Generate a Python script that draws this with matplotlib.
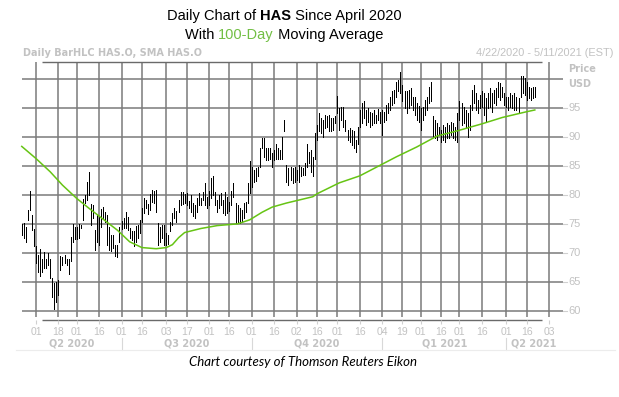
import numpy as np
import pandas as pd
import matplotlib
matplotlib.use('Agg')
import matplotlib.pyplot as plt

# daily high / low of HAS.O, one pair per trading day from 2020-04-22
high = [74.9, 75.1, 74.5, 77.4, 80.6, 76.5, 74.1, 71.1, 69.6, 70.7,
        69.0, 70.1, 69.0, 69.9, 68.9, 65.7, 64.7, 65.0, 65.3, 69.5,
        69.3, 69.6, 69.0, 68.9, 72.8, 74.9, 74.5, 74.4, 74.9, 74.8,
        79.3, 80.0, 82.3, 83.9, 78.4, 78.3, 73.9, 76.5, 76.2, 77.6,
        78.0, 77.1, 76.5, 74.5, 73.1, 73.0, 71.3, 71.3, 74.4, 75.5,
        76.0, 77.0, 76.2, 74.2, 73.7, 73.7, 74.7, 74.8, 75.7, 77.7,
        79.4, 79.1, 78.4, 80.1, 80.9, 80.6, 80.9,
        75.1, 74.5, 74.8, 74.8, 73.4, 73.1, 75.4, 76.8, 77.7, 77.2,
        79.1, 80.5, 80.5, 80.1, 80.3, 79.0, 80.0, 78.6, 78.3, 79.5,
        80.3, 79.4, 80.5, 82.0, 79.7, 80.7, 83.0, 83.3, 80.5, 79.1,
        80.0, 80.3, 79.1, 80.5, 79.7, 78.8, 80.6, 82.0, 78.6, 78.3,
        77.7, 77.4, 78.6, 78.7, 82.0, 85.9, 84.9, 84.3, 84.7, 84.9,
        88.1, 89.8, 89.9, 88.1, 88.1, 88.1, 87.2, 87.8, 88.9, 88.1,
        87.8, 90.1, 93.0,
        85.2, 84.6, 84.9, 84.6, 84.9, 84.3, 85.2, 84.9, 84.6, 85.5,
        88.9, 87.5, 87.8, 86.6, 90.7, 92.1, 94.1, 93.3, 93.0, 93.8,
        93.6, 93.8,
        93.3, 93.3, 93.6, 97.1, 95.0, 95.2, 95.3, 93.0, 91.2, 91.5,
        91.2, 91.0, 89.5, 91.8, 94.7, 95.9, 96.2, 94.7, 95.0, 94.4,
        94.1, 94.7, 93.8, 94.8, 94.4, 94.7, 94.4, 95.6, 95.9, 97.0,
        97.9, 98.2, 99.6, 99.9, 101.3, 99.0, 97.9, 97.9, 98.2, 98.5,
        97.0, 97.0, 95.9, 95.4, 95.0, 95.3, 96.4, 97.0, 98.7, 99.6,
        93.6, 93.0, 92.4, 91.8, 91.2, 92.1, 91.8, 92.4, 92.1, 92.7,
        92.4, 91.8, 94.1, 96.2, 95.9, 95.3, 94.7, 94.1, 95.6, 98.2,
        99.0, 97.6, 96.4, 97.3, 97.9, 97.6, 96.7, 97.6, 98.5, 97.6,
        98.2, 98.5, 99.6, 99.3, 98.7, 97.6, 97.0, 97.0, 97.6, 97.3,
        97.6, 97.0, 96.7, 100.5, 100.5, 100.2, 99.6, 98.7, 98.5, 98.7,
        98.7]
low = [73.1, 72.6, 71.8, 75.7, 77.4, 74.0, 71.1, 68.2, 66.7, 65.9,
       66.6, 67.3, 67.3, 67.9, 65.6, 62.4, 60.3, 61.5, 62.7, 67.0,
       67.9, 68.2, 67.9, 66.4, 68.5, 71.9, 72.4, 72.4, 72.6, 74.2,
       75.7, 78.6, 79.1, 80.0, 74.8, 76.0, 70.5, 71.9, 71.3, 74.4,
       76.0, 75.4, 71.3, 70.5, 70.3, 70.8, 69.5, 69.3, 71.9, 74.1,
       74.2, 74.2, 74.0, 72.5, 72.2, 71.1, 71.9, 72.6, 73.4, 75.4,
       76.8, 77.7, 76.7, 77.4, 78.8, 78.6, 77.1,
       71.3, 71.9, 72.5, 71.3, 71.3, 71.6, 73.7, 74.8, 76.0, 75.4,
       77.1, 78.3, 78.4, 78.6, 78.3, 77.7, 77.1, 76.3, 76.1, 77.1,
       78.3, 78.3, 79.1, 78.3, 77.7, 78.3, 79.4, 80.0, 78.3, 77.1,
       77.7, 78.3, 76.8, 76.5, 76.8, 77.2, 78.3, 79.7, 75.1, 75.1,
       75.1, 75.4, 76.0, 77.1, 78.6, 80.3, 81.4, 82.3, 82.4, 83.2,
       84.9, 88.1, 86.6, 86.1, 86.1, 86.3, 84.9, 86.1, 86.3, 86.2,
       86.3, 86.3, 91.0,
       82.3, 81.7, 82.6, 82.0, 82.3, 82.6, 82.3, 83.2, 83.5, 83.5,
       84.9, 85.5, 84.0, 83.2, 86.3, 89.5, 91.0, 90.7, 90.1, 91.5,
       91.8, 91.0,
       91.0, 91.2, 92.4, 94.1, 91.2, 93.0, 91.8, 91.0, 89.5, 89.2,
       88.6, 88.1, 87.5, 88.9, 91.8, 92.4, 93.3, 92.1, 92.7, 91.8,
       92.1, 92.4, 92.4, 93.0, 92.4, 90.4, 92.7, 93.0, 94.1, 94.7,
       95.6, 95.9, 97.0, 97.9, 97.6, 96.2, 95.0, 94.1, 95.0, 95.6,
       94.7, 93.8, 93.0, 92.7, 91.2, 93.0, 93.8, 94.7, 95.9, 96.2,
       90.1, 89.8, 89.5, 90.4, 89.2, 89.5, 89.2, 89.8, 89.8, 90.4,
       89.8, 89.5, 89.2, 93.0, 92.1, 92.4, 91.8, 90.1, 91.2, 94.7,
       95.9, 94.7, 94.1, 95.0, 95.3, 93.8, 92.7, 95.0, 95.3, 94.4,
       95.9, 95.6, 97.0, 96.4, 97.0, 95.6, 95.3, 94.7, 95.3, 95.0,
       94.7, 94.7, 94.1, 97.0, 97.6, 97.3, 96.4, 96.7, 96.4, 96.7,
       97.0]

# 100-day simple moving average, read at a few bars
ma_idx = [0, 7, 14, 20, 27, 33, 40, 47, 53, 59, 66, 71, 74, 77, 80, 88, 96,
          106, 112, 118, 123, 130, 143, 145, 156, 166, 184, 194, 204, 214,
          226, 236, 248, 252]
ma_val = [88.4, 86.3, 84.0, 81.7, 79.4, 77.7, 75.8, 73.9, 71.9, 70.9, 70.7,
          70.9, 71.4, 72.6, 73.5, 74.2, 74.7, 75.0, 75.7, 77.0, 77.9, 78.6,
          79.7, 80.2, 82.1, 83.3, 86.6, 88.3, 90.2, 91.1, 92.3, 93.4, 94.4,
          94.7]

holidays = ['2020-05-25', '2020-07-03', '2020-09-07', '2020-11-26',
            '2020-12-25', '2021-01-01', '2021-01-18', '2021-02-15',
            '2021-04-02']
tick_dates = ['2020-05-01', '2020-05-18', '2020-06-01', '2020-06-16',
              '2020-07-01', '2020-07-16', '2020-08-03', '2020-08-17',
              '2020-09-01', '2020-09-16', '2020-10-01', '2020-10-16',
              '2020-11-02', '2020-11-16', '2020-12-01', '2020-12-16',
              '2021-01-04', '2021-01-19', '2021-02-01', '2021-02-16',
              '2021-03-01', '2021-03-16', '2021-04-01', '2021-04-16',
              '2021-05-03']
quarters = ['Q2 2020', 'Q3 2020', 'Q4 2020', 'Q1 2021', 'Q2 2021']
quarter_starts = ['2020-04-22', '2020-07-01', '2020-10-01', '2021-01-04',
                  '2021-04-01']
price_ticks = [60, 65, 70, 75, 80, 85, 90, 95]

days = pd.bdate_range('2020-04-22', '2021-05-11')
days = days[~days.isin(pd.to_datetime(holidays))]
pos = {d: i for i, d in enumerate(days)}
tick_pos = [pos[pd.Timestamp(d)] for d in tick_dates]
tick_lab = [pd.Timestamp(d).strftime('%d') for d in tick_dates]
q_pos = [pos[pd.Timestamp(d)] for d in quarter_starts] + [len(days) - 1]

W, H = 619, 397
fig = plt.figure(figsize=(W / 100, H / 100), dpi=100)
GRAY = '#c2c2c2'
GRID = '#7a7a7a'
GREEN = '#66c414'

# pixel helpers: bar index -> px is roughly 21.75 + 2.036 * i
def px_x(i):
    return 21.75 + 2.036 * i

x0, x1 = -1, 266
y0, y1 = 58.37, 103.0
ax = fig.add_axes([px_x(x0) / W, (H - 320) / H,
                   (px_x(x1) - px_x(x0)) / W, (320 - 62) / H])
ax.set_xlim(x0, x1)
ax.set_ylim(y0, y1)
for s in ax.spines.values():
    s.set_visible(False)

# grid
ax.hlines(price_ticks + [100], 0, x1, color=GRID, lw=1.1, zorder=1)
ax.vlines(tick_pos, 58.9, y1, color=GRID, lw=1.1, zorder=1)
edge0 = (42 - 21.75) / 2.036
edge1 = (542 - 21.75) / 2.036
ax.hlines([y0, y1], edge0, edge1, color='#6a6a6a', lw=1.0, clip_on=False, zorder=1)

# bars and moving average
n = len(high)
ax.vlines(np.arange(n), low, high, color='black', lw=0.72, zorder=3,
          antialiased=False)
ax.plot(ma_idx, ma_val, color=GREEN, lw=1.1, zorder=4)

# x ticks and labels
ax.set_xticks(tick_pos)
ax.set_xticklabels(tick_lab)
ax.tick_params(axis='x', length=3, width=0.8, color='#d0d0d0', pad=2,
               labelsize=7.5, labelcolor=GRAY)
for t in ax.get_xticklabels():
    t.set_family('Liberation Sans')
ax.set_yticks([])

# y labels on the right
for p in price_ticks:
    ax.plot([x1, (567 - 21.75) / 2.036], [p, p], color='#d0d0d0', lw=0.8,
            clip_on=False)
    ax.text((568.5 - 21.75) / 2.036, p, str(p), color=GRAY, fontsize=8,
            family='Liberation Sans', va='center', ha='left')
fig.text(568 / W, 1 - 69 / H, 'Price', color=GRAY, fontsize=7,
         fontweight='bold', family='DejaVu Sans', va='center', ha='left')
fig.text(568 / W, 1 - 84 / H, 'USD', color=GRAY, fontsize=7,
         fontweight='bold', family='DejaVu Sans', va='center', ha='left')

# quarter row
for k, q in enumerate(quarters):
    mid = (q_pos[k] + q_pos[k + 1]) / 2
    fig.text(px_x(mid) / W, 1 - 344 / H, q, color=GRAY, fontsize=7,
             fontweight='bold', family='DejaVu Sans', ha='center', va='center')
for qp in q_pos[1:-1]:
    fig.add_artist(plt.Line2D([px_x(qp) / W] * 2, [1 - 338 / H, 1 - 350 / H],
                              color='#d8d8d8', lw=0.8))
fig.add_artist(plt.Line2D([16 / W, 615 / W], [1 - 350 / H] * 2,
                          color='#ececec', lw=0.8))

fig.text(23 / W, 1 - 53 / H, 'Daily BarHLC HAS.O, SMA HAS.O', color=GRAY,
         fontsize=7, fontweight='bold', family='DejaVu Sans', va='center')
fig.text(613 / W, 1 - 53 / H, '4/22/2020 - 5/11/2021 (EST)', color=GRAY,
         fontsize=7.9, family='Liberation Sans', va='center', ha='right')

fig.text(303 / W, 1 - 362 / H, 'Chart courtesy of Thomson Reuters Eikon',
         fontsize=9.5, style='italic', family='Lato', ha='center', va='center')

# title with mixed styles
r = fig.canvas.get_renderer()

def title_line(parts, y, cx=284, size=10.5):
    items = []
    for s, c, w in parts:
        t = fig.text(0, 1 - y / H, s, color=c, fontweight=w, fontsize=size,
                     family='Liberation Sans', va='center')
        items.append((t, t.get_window_extent(r).width))
    x = cx - sum(w for _, w in items) / 2
    for t, w in items:
        t.set_x(x / W)
        x += w

title_line([('Daily Chart of ', 'black', 'normal'), ('HAS', 'black', 'bold'),
            (' Since April 2020', 'black', 'normal')], 16)
title_line([('With ', 'black', 'normal'), ('100-Day', '#72bf44', 'normal'),
            (' Moving Average', 'black', 'normal')], 35)

fig.savefig('out.png', dpi=100)
